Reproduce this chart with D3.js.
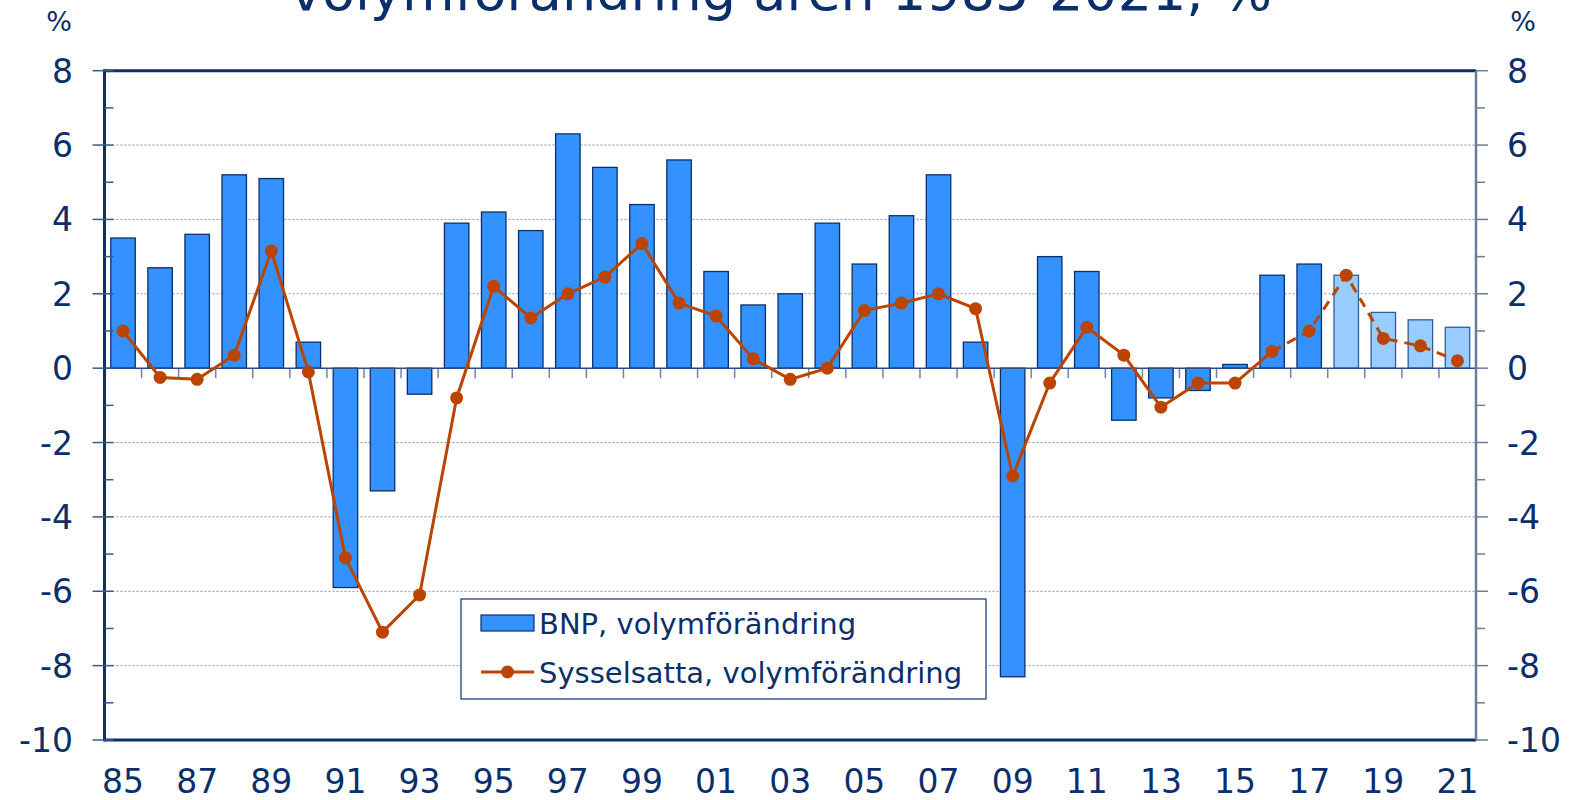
<!DOCTYPE html>
<html>
<head>
<meta charset="utf-8">
<script src="https://cdn.jsdelivr.net/npm/d3@7"></script>
<style>
  body { margin: 0; background: #fff; }
  text { font-family: "DejaVu Sans", Verdana, sans-serif; fill: #0b2f6b; }
</style>
</head>
<body>
<div class="chart"></div>
<script>
// years shown on the x axis (two-digit)
var years = ["85","86","87","88","89","90","91","92","93","94","95","96","97","98","99",
             "00","01","02","03","04","05","06","07","08","09","10","11","12","13","14",
             "15","16","17","18","19","20","21"];
// BNP, volymförändring
var bnp = [3.5, 2.7, 3.6, 5.2, 5.1, 0.7, -5.9, -3.3, -0.7, 3.9, 4.2, 3.7, 6.3, 5.4, 4.4,
           5.6, 2.6, 1.7, 2.0, 3.9, 2.8, 4.1, 5.2, 0.7, -8.3, 3.0, 2.6, -1.4, -0.8, -0.6,
           0.1, 2.5, 2.8, 2.5, 1.5, 1.3, 1.1];
// Sysselsatta, volymförändring
var emp = [1.0, -0.25, -0.3, 0.35, 3.15, -0.1, -5.1, -7.1, -6.1, -0.8, 2.2, 1.35, 2.0, 2.45, 3.35,
           1.75, 1.4, 0.25, -0.3, 0.0, 1.55, 1.75, 2.0, 1.6, -2.9, -0.4, 1.1, 0.35, -1.05, -0.4,
           -0.4, 0.45, 1.0, 2.5, 0.8, 0.6, 0.2];
var yTicks = [8, 6, 4, 2, 0, -2, -4, -6, -8, -10];
var forecastBarFrom = "18";   // light bars = prognos
var forecastLineFrom = "16";  // dashed line starts here

var svgWidth = 1579, svgHeight = 800;
var plotLeft = 104.5, plotRight = 1476, plotTop = 70.7, plotBottom = 740;

var svg = d3.select(".chart").append("svg")
  .attr("width", svgWidth)
  .attr("height", svgHeight);

var x = d3.scaleBand().domain(years).range([plotLeft, plotRight])
  .paddingInner(0.34).paddingOuter(0.17);
var y = d3.scaleLinear().domain([-10, 8]).range([plotBottom, plotTop]);

// title (second line, partly cut at the top)
svg.append("text")
  .attr("x", 781).attr("y", 10)
  .attr("text-anchor", "middle")
  .style("font-size", "54px")
  .text("volymförändring åren 1985-2021, %");

// grid lines
svg.append("g").selectAll("line")
  .data(yTicks.filter(function(d) { return d !== 0 && d !== 8 && d !== -10; }))
  .enter().append("line")
  .attr("x1", plotLeft).attr("x2", plotRight)
  .attr("y1", function(d) { return y(d); })
  .attr("y2", function(d) { return y(d); })
  .attr("stroke", "#8193b3")
  .attr("stroke-width", 1)
  .attr("stroke-dasharray", "2,2");

// small ticks below the zero line between years
var step = x.step();
svg.append("g").selectAll("line")
  .data(years.slice(1))
  .enter().append("line")
  .attr("x1", function(d) { return x(d) - x.paddingInner() * step / 2; })
  .attr("x2", function(d) { return x(d) - x.paddingInner() * step / 2; })
  .attr("y1", y(0)).attr("y2", y(0) + 10)
  .attr("stroke", "#6f84a8")
  .attr("stroke-width", 1.5);

// bars
var iBar = years.indexOf(forecastBarFrom);
svg.append("g").selectAll("rect")
  .data(bnp)
  .enter().append("rect")
  .attr("x", function(d, i) { return x(years[i]); })
  .attr("width", x.bandwidth())
  .attr("y", function(d) { return y(Math.max(0, d)); })
  .attr("height", function(d) { return Math.abs(y(d) - y(0)); })
  .attr("fill", function(d, i) { return i >= iBar ? "#99ccff" : "#3392ff"; })
  .attr("stroke", function(d, i) { return i >= iBar ? "#2f5d94" : "#0b2f6b"; })
  .attr("stroke-width", 1.3);

// zero line
svg.append("line")
  .attr("x1", plotLeft).attr("x2", plotRight)
  .attr("y1", y(0)).attr("y2", y(0))
  .attr("stroke", "#2b4d80")
  .attr("stroke-width", 1.5);

// employment line
var iLine = years.indexOf(forecastLineFrom);
var line = d3.line()
  .x(function(d) { return x(years[d]) + x.bandwidth() / 2; })
  .y(function(d) { return y(emp[d]); });
var idx = d3.range(years.length);
svg.append("path")
  .attr("d", line(idx.slice(0, iLine + 1)))
  .attr("fill", "none")
  .attr("stroke", "#bb4400")
  .attr("stroke-width", 3);
svg.append("path")
  .attr("d", line(idx.slice(iLine)))
  .attr("fill", "none")
  .attr("stroke", "#bb4400")
  .attr("stroke-width", 3)
  .attr("stroke-dasharray", "10,7");
svg.append("g").selectAll("circle")
  .data(emp)
  .enter().append("circle")
  .attr("cx", function(d, i) { return x(years[i]) + x.bandwidth() / 2; })
  .attr("cy", function(d) { return y(d); })
  .attr("r", 6.5)
  .attr("fill", "#bb4400");

// frame: top, left, bottom navy; right grey-blue
svg.append("line").attr("x1", plotLeft).attr("x2", plotRight).attr("y1", plotTop).attr("y2", plotTop)
  .attr("stroke", "#0b2f6b").attr("stroke-width", 3);
svg.append("line").attr("x1", plotLeft).attr("x2", plotRight).attr("y1", plotBottom).attr("y2", plotBottom)
  .attr("stroke", "#0b2f6b").attr("stroke-width", 3);
svg.append("line").attr("x1", plotRight).attr("x2", plotRight).attr("y1", plotTop).attr("y2", plotBottom)
  .attr("stroke", "#6b7b9c").attr("stroke-width", 2.5);
svg.append("line").attr("x1", plotLeft).attr("x2", plotLeft).attr("y1", plotTop - 1.5).attr("y2", plotBottom + 1.5)
  .attr("stroke", "#0b2f6b").attr("stroke-width", 3);

// y ticks (major at even values, minor at odd)
var minor = d3.range(-9, 8, 2);
svg.append("g").selectAll("line").data(yTicks).enter().append("line")
  .attr("x1", plotLeft - 12).attr("x2", plotLeft + 9)
  .attr("y1", function(d) { return y(d); }).attr("y2", function(d) { return y(d); })
  .attr("stroke", "#3a5a8a").attr("stroke-width", 1.5);
svg.append("g").selectAll("line").data(minor).enter().append("line")
  .attr("x1", plotLeft).attr("x2", plotLeft + 9)
  .attr("y1", function(d) { return y(d); }).attr("y2", function(d) { return y(d); })
  .attr("stroke", "#3a5a8a").attr("stroke-width", 1.5);
svg.append("g").selectAll("line").data(yTicks).enter().append("line")
  .attr("x1", plotRight).attr("x2", plotRight + 12)
  .attr("y1", function(d) { return y(d); }).attr("y2", function(d) { return y(d); })
  .attr("stroke", "#6b7b9c").attr("stroke-width", 1.5);
svg.append("g").selectAll("line").data(minor).enter().append("line")
  .attr("x1", plotRight).attr("x2", plotRight + 9)
  .attr("y1", function(d) { return y(d); }).attr("y2", function(d) { return y(d); })
  .attr("stroke", "#6b7b9c").attr("stroke-width", 1.5);

// y labels, both sides
svg.append("g").selectAll("text").data(yTicks).enter().append("text")
  .attr("x", 73).attr("y", function(d) { return y(d) + 12; })
  .attr("text-anchor", "end")
  .style("font-size", "33px")
  .text(function(d) { return d; });
svg.append("g").selectAll("text").data(yTicks).enter().append("text")
  .attr("x", 1507).attr("y", function(d) { return y(d) + 12; })
  .style("font-size", "33px")
  .text(function(d) { return d; });
svg.append("text").attr("x", 59).attr("y", 31).attr("text-anchor", "middle")
  .style("font-size", "27px").text("%");
svg.append("text").attr("x", 1523).attr("y", 31).attr("text-anchor", "middle")
  .style("font-size", "27px").text("%");

// x labels, every other year
svg.append("g").selectAll("text")
  .data(years.filter(function(d, i) { return i % 2 === 0; }))
  .enter().append("text")
  .attr("x", function(d) { return x(d) + x.bandwidth() / 2; })
  .attr("y", 793)
  .attr("text-anchor", "middle")
  .style("font-size", "33px")
  .text(function(d) { return d; });

// legend
var lg = svg.append("g");
lg.append("rect").attr("x", 461).attr("y", 599).attr("width", 525).attr("height", 100)
  .attr("fill", "#fff").attr("stroke", "#0b2f6b").attr("stroke-width", 1.2);
lg.append("rect").attr("x", 481).attr("y", 615).attr("width", 53).attr("height", 16)
  .attr("fill", "#3392ff").attr("stroke", "#0b2f6b").attr("stroke-width", 1.2);
lg.append("text").attr("x", 539).attr("y", 634).style("font-size", "29px")
  .text("BNP, volymförändring");
lg.append("line").attr("x1", 481).attr("x2", 534).attr("y1", 672).attr("y2", 672)
  .attr("stroke", "#bb4400").attr("stroke-width", 3);
lg.append("circle").attr("cx", 507.5).attr("cy", 672).attr("r", 6.5).attr("fill", "#bb4400");
lg.append("text").attr("x", 539).attr("y", 683).style("font-size", "29px")
  .text("Sysselsatta, volymförändring");
</script>
</body>
</html>
